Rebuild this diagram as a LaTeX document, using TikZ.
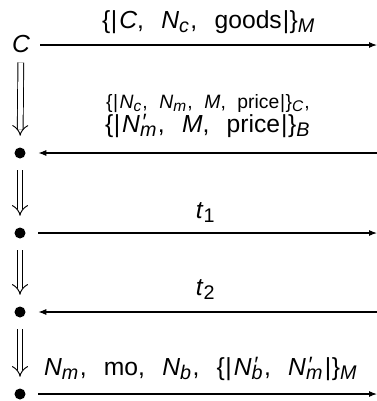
\documentclass[tikz,border=0pt]{standalone}
\usepackage{fontspec}
\setmainfont{Liberation Sans}
\usetikzlibrary{arrows.meta}

\makeatletter
\newcommand{\sbs}[1]{\raisebox{-0.18em}{\fontsize{\strip@pt\dimexpr0.8\dimexpr\f@size pt\relax\relax}{1}\selectfont\textit{#1}}\kern.06em}
\newcommand{\sps}{\raisebox{0.12em}{\fontsize{\strip@pt\dimexpr0.9\dimexpr\f@size pt\relax\relax}{1}\selectfont\kern.12em′}}
\makeatother
\newcommand{\lbg}{\{\kern.02em|\kern.08em}
\newcommand{\rbg}{\kern.04em|\kern.02em\}}
\newcommand{\npr}[1]{\textit{N}\rlap{\sps}\sbs{#1}}
\newcommand{\cm}{,\hspace{0.7em}}

\begin{document}
\begin{tikzpicture}[
      x=0.75pt, y=-0.75pt,
      font=\fontsize{18.5}{22}\selectfont,
      dot/.style={circle, fill, inner sep=0pt, minimum size=8.25pt},
      msg/.style={-{Latex[length=6pt,width=4.5pt]}, line width=0.8pt},
      seq/.style={double, double distance=3.6pt, line width=0.7pt,
                  -{Implies}, shorten <=8.6pt, shorten >=8.6pt},
      lbl/.style={anchor=base, inner sep=0pt},
      sm/.style={font=\fontsize{14.5}{16}\selectfont},
    ]
    \useasboundingbox (0,0) rectangle (376,401);
    % principal and states
    \node[lbl, inner sep=0pt] (c) at (21,52) {\textit{C}};
    \node[dot] (d2) at (20,153) {};
    \node[dot] (d3) at (20,233) {};
    \node[dot] (d4) at (20,312) {};
    \node[dot] (d5) at (20,394) {};
    % far ends of the messages
    \coordinate (e1) at (377,45);
    \coordinate (e2) at (377,153);
    \coordinate (e3) at (377,233);
    \coordinate (e4) at (377,312);
    \coordinate (e5) at (377,394);

    % messages
    \draw[msg, shorten <=7.5pt] (c.east |- e1) -- (e1);
    \node[lbl] (m1) at (209,28)
      {\lbg\textit{C}\cm\textit{N}\sbs{c}\cm goods\rbg\sbs{M}};
    \draw[msg, shorten >=9.4pt] (e2) -- (d2);
    \node[lbl, sm] (m2a) at (208,108)
      {\lbg\textit{N}\sbs{c},\hspace{0.6em}\textit{N}\sbs{m},\hspace{0.6em}\textit{M},\hspace{0.6em}price\rbg\sbs{C},};
    \node[lbl] (m2b) at (208,132)
      {\lbg\npr{m}\cm\textit{M}\cm price\rbg\sbs{B}};
    \draw[msg, shorten <=9.4pt] (d3) -- (e3);
    \node[lbl] (m3) at (206,218) {\textit{t}\sbs{\upshape 1}};
    \draw[msg, shorten >=9.4pt] (e4) -- (d4);
    \node[lbl] (m4) at (206,295) {\textit{t}\sbs{\upshape 2}};
    \draw[msg, shorten <=9.4pt] (d5) -- (e5);
    \node[lbl] (m5) at (201,375)
      {\textit{N}\sbs{m}\cm mo\cm\textit{N}\sbs{b}\cm\lbg\npr{b}\cm\npr{m}\rbg\sbs{M}};

    % sequence of states
    \draw[seq, shorten <=7.5pt] (c) -- (d2);
    \draw[seq] (d2) -- (d3);
    \draw[seq] (d3) -- (d4);
    \draw[seq] (d4) -- (d5);
\end{tikzpicture}
\end{document}
